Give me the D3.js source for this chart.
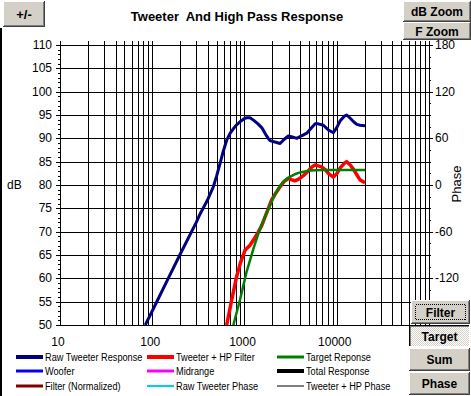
<!DOCTYPE html>
<html><head><meta charset="utf-8">
<script src="https://cdn.jsdelivr.net/npm/d3@7"></script>
<style>
html,body{margin:0;padding:0;background:#fff;}
svg{display:block;}
text{font-family:"Liberation Sans",Arial,sans-serif;}
</style></head>
<body>
<svg id="chart" width="471" height="396"></svg>
<script>
// ---------- DATA ----------
const title = "Tweeter  And High Pass Response";
const dbTicks = [50,55,60,65,70,75,80,85,90,95,100,105,110];
const phaseTicks = [-120,-60,0,60,120,180];
const freqTickLabels = [10,100,1000,10000];

const rawFreq = [84,100,150,200,300,330,400,459,500,550,590,641,700,760,822,900,1010,1060,1148,1250,1400,1537,1700,1811,1890,2052,2140,2430,2700,2990,3300,3680,4200,4730,5300,5810,6300,6848,7160,8110,8810,9190,10000,10850,12000,12820,14000,15140,16500,17870,20250];
const rawDb   = [50,53.0,60.1,65.1,72.0,73.8,76.9,79.6,82.0,85.0,87.3,89.6,91.1,92.1,92.9,93.6,94.3,94.4,94.4,93.9,93.1,92.3,90.8,90.0,89.5,89.3,89.2,88.9,89.8,90.5,90.3,90.0,90.6,91.1,92.2,93.1,93.1,92.9,92.8,91.8,91.4,91.2,92.3,93.7,94.7,95.0,94.3,93.6,93.0,92.8,92.7];

const hpFreq = [641,727,822,900,971,1012,1148,1248,1400,1537,1750,1969,2142,2428,2700,2990,3250,3524,3900,4340,4800,5343,5808,6300,6848,7500,8110,9192,10000,10850,12000,12820,14000,15140,16500,17870,20250];
const hpDb   = [50,55.4,60.4,63.2,65.0,66.0,67.1,68.2,69.8,71.3,74.2,76.8,78.0,79.6,80.8,81.4,81.1,80.9,81.3,82.0,82.8,83.8,84.3,84.1,83.9,83.3,82.5,81.7,82.4,83.6,84.6,85.0,84.3,83.4,82.2,81.1,80.5];

const targetFreq = [757,894,1057,1248,1450,1700,1890,2100,2328,2600,2990,3500,4000,5130,7000,10000,20250];
const targetDb   = [50,55.4,61.5,66.3,70.3,73.6,75.6,77.6,79.3,80.6,81.6,82.3,82.7,83.1,83.2,83.2,83.2];

const legendNames  = ["Raw Tweeter Response","Tweeter + HP Filter","Target Reponse","Woofer","Midrange","Total Response","Filter (Normalized)","Raw Tweeter Phase","Tweeter + HP Phase"];
const legendColors = ["#000080","#ff0000","#008000","#0000ff","#ff00ff","#000000","#800000","#00ccff","#808080"];
const legendWidths = [4,4,3,3,3,4,3,2,2];

const buttonsTop = ["+/-","dB Zoom","F Zoom"];
const buttonsBottom = ["Filter","Target","Sum","Phase"];

// ---------- LAYOUT ----------
const L = 60, R = 429, T = 45, B = 325;
const svg = d3.select("#chart");

const x = d3.scaleLog().domain([10,100000]).range([L,R]);
const y = d3.scaleLinear().domain([50,110]).range([B,T]);
const yp = d3.scaleLinear().domain([-180,180]).range([B,T]);

// left window frame
svg.append("rect").attr("x",0).attr("y",28).attr("width",2).attr("height",368).attr("fill","#000");

// title
svg.append("text").attr("x",237).attr("y",21).attr("text-anchor","middle")
  .style("white-space","pre").attr("xml:space","preserve")
  .attr("font-size",13).attr("font-weight","bold").text(title);

// grid
const gridFreqs = [];
for (let e=1;e<5;e++) for (let m=1;m<10;m++) gridFreqs.push(m*Math.pow(10,e));
gridFreqs.push(100000);
const g = svg.append("g").attr("shape-rendering","crispEdges");
g.selectAll("line.v").data(gridFreqs).join("line")
  .attr("x1",d=>Math.round(x(d))+0.5).attr("x2",d=>Math.round(x(d))+0.5)
  .attr("y1",41).attr("y2",B).attr("stroke","#000");
g.selectAll("line.h").data(dbTicks).join("line")
  .attr("x1",L-4).attr("x2",R).attr("y1",d=>Math.round(y(d))+0.5).attr("y2",d=>Math.round(y(d))+0.5)
  .attr("stroke","#000");

// left minor ticks
const minorDb = d3.range(50,111,1);
g.selectAll("line.mn").data(minorDb).join("line")
  .attr("x1",L-2).attr("x2",L).attr("y1",d=>Math.round(y(d))+0.5).attr("y2",d=>Math.round(y(d))+0.5)
  .attr("stroke","#000");
// right axis ticks
const minorPh = d3.range(-180,181,15);
g.selectAll("line.mp").data(minorPh).join("line")
  .attr("x1",R).attr("x2",d=>R+(d%60===0?4:2)).attr("y1",d=>Math.round(yp(d))+0.5).attr("y2",d=>Math.round(yp(d))+0.5)
  .attr("stroke","#000");

// Y labels
svg.append("g").selectAll("text").data(dbTicks).join("text")
  .attr("x",52).attr("y",d=>y(d)+4).attr("text-anchor","end").attr("font-size",12).text(d=>d);
svg.append("g").selectAll("text").data(phaseTicks).join("text")
  .attr("x",435).attr("y",d=>yp(d)+4).attr("text-anchor","start").attr("font-size",12).text(d=>d);
svg.append("text").attr("x",7).attr("y",189).attr("font-size",12).text("dB");
svg.append("text").attr("transform","translate(461,184) rotate(-90)").attr("text-anchor","middle")
  .attr("font-size",13).text("Phase");

// X labels
svg.append("g").selectAll("text").data(freqTickLabels).join("text")
  .attr("x",d=>x(d)-2).attr("y",346).attr("text-anchor","middle").attr("font-size",12).text(d=>d);

// curves
const line = d3.line().x(d=>x(d[0])).y(d=>y(d[1]));
svg.append("clipPath").attr("id","pc").append("rect").attr("x",L).attr("y",T-3).attr("width",R-L).attr("height",B-T+3);
const curves = svg.append("g").attr("clip-path","url(#pc)");
curves.append("path").datum(d3.zip(rawFreq,rawDb)).attr("d",line)
  .attr("fill","none").attr("stroke","#000080").attr("stroke-width",3).attr("stroke-linejoin","round");
curves.append("path").datum(d3.zip(hpFreq,hpDb)).attr("d",line)
  .attr("fill","none").attr("stroke","#ff0000").attr("stroke-width",3.5).attr("stroke-linejoin","round");
curves.append("path").datum(d3.zip(targetFreq,targetDb)).attr("d",line)
  .attr("fill","none").attr("stroke","#008000").attr("stroke-width",2.5).attr("stroke-linejoin","round");

// legend
const colX = [16,147,277], rowY = [357,371,386];
const lg = svg.append("g");
legendNames.forEach((n,i)=>{
  const cx = colX[i%3], cy = rowY[Math.floor(i/3)];
  lg.append("line").attr("x1",cx).attr("x2",cx+27).attr("y1",cy).attr("y2",cy)
    .attr("stroke",legendColors[i]).attr("stroke-width",legendWidths[i]);
  lg.append("text").attr("transform",`translate(${cx+29},${cy+4}) scale(0.8,1)`)
    .attr("font-size",11.5).text(n);
});

// buttons
const defs = svg.append("defs");
const pat = defs.append("pattern").attr("id","dither").attr("width",2).attr("height",2).attr("patternUnits","userSpaceOnUse");
pat.append("rect").attr("width",2).attr("height",2).attr("fill","#ffffff");
pat.append("rect").attr("width",1).attr("height",1).attr("fill","#d4d0c8");
pat.append("rect").attr("x",1).attr("y",1).attr("width",1).attr("height",1).attr("fill","#d4d0c8");

function button(bx,by,bw,bh,label,opts={}){
  const b = svg.append("g").attr("shape-rendering","crispEdges");
  b.append("rect").attr("x",bx).attr("y",by).attr("width",bw).attr("height",bh).attr("fill",opts.pressed?"url(#dither)":"#d4d0c8");
  if (opts.pressed){
    b.append("path").attr("d",`M${bx+0.5},${by+bh} V${by+0.5} H${bx+bw}`).attr("stroke","#000").attr("fill","none");
    b.append("path").attr("d",`M${bx+1.5},${by+bh-1} V${by+1.5} H${bx+bw-1}`).attr("stroke","#808080").attr("fill","none");
    b.append("path").attr("d",`M${bx},${by+bh-0.5} H${bx+bw-0.5} V${by}`).attr("stroke","#fff").attr("fill","none");
  } else {
    b.append("path").attr("d",`M${bx+0.5},${by+bh-1} V${by+0.5} H${bx+bw-1}`).attr("stroke","#fff").attr("fill","none");
    b.append("path").attr("d",`M${bx},${by+bh-0.5} H${bx+bw-0.5} V${by}`).attr("stroke","#404040").attr("fill","none");
    b.append("path").attr("d",`M${bx+1},${by+bh-1.5} H${bx+bw-1.5} V${by+1}`).attr("stroke","#808080").attr("fill","none");
  }
  if (opts.focus){
    b.append("rect").attr("x",bx+4.5).attr("y",by+4.5).attr("width",bw-9).attr("height",bh-9)
      .attr("fill","none").attr("stroke","#000").attr("stroke-dasharray","1,1");
  }
  b.append("text").attr("x",bx+bw/2).attr("y",by+bh/2+4.5).attr("text-anchor","middle")
    .attr("font-size",opts.fs||12).attr("font-weight","bold").text(label);
}
button(3,1,42,26,buttonsTop[0],{fs:13});
button(403,1,68,21,buttonsTop[1]);
button(403,22,68,18,buttonsTop[2]);
button(411,300,59,24,buttonsBottom[0],{focus:true});
button(409,325,61,22,buttonsBottom[1],{pressed:true});
button(409,348,61,23,buttonsBottom[2]);
button(409,372,61,23,buttonsBottom[3]);
</script>
</body></html>
